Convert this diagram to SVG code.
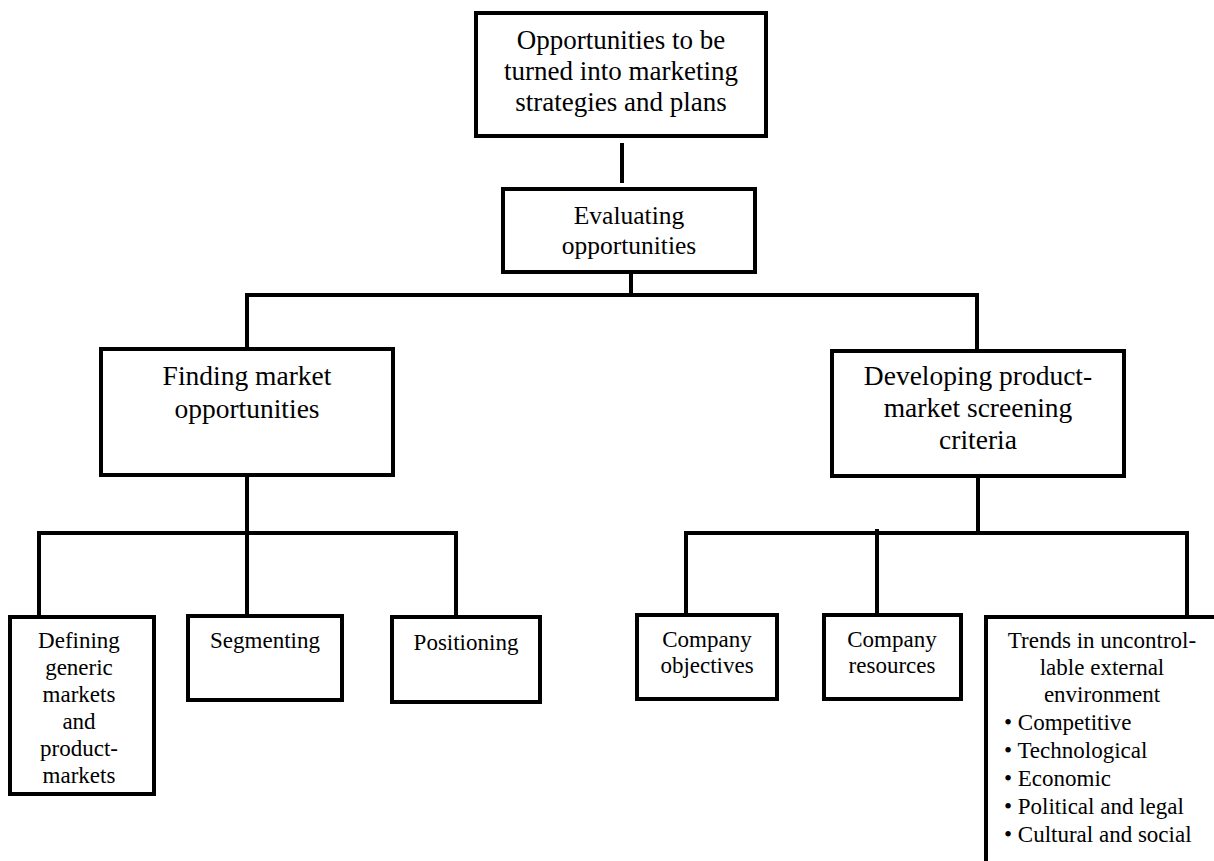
<svg xmlns="http://www.w3.org/2000/svg" width="1214" height="861" viewBox="0 0 1214 861">
  <style>
    .box { fill: #ffffff; stroke: #000000; stroke-width: 4; }
    .wire { fill: none; stroke: #000000; stroke-width: 4; stroke-linecap: butt; stroke-linejoin: miter; }
    text { font-family: "Liberation Serif", "Times New Roman", serif; fill: #000000; }
    .c { text-anchor: middle; }
    .f27 { font-size: 27px; }
    .f26 { font-size: 25.5px; }
    .f28 { font-size: 27.5px; }
    .f23 { font-size: 23px; }
  </style>
  <rect width="1214" height="861" fill="#ffffff"/>

  <!-- connectors -->
  <g id="connectors" class="wire">
    <line x1="622" y1="143" x2="622" y2="183"/>
    <line x1="631" y1="270" x2="631" y2="295"/>
    <polyline points="247,349 247,295 977,295 977,357"/>
    <line x1="247" y1="473" x2="247" y2="616"/>
    <polyline points="39,617 39,533 456,533 456,617"/>
    <line x1="978" y1="473" x2="978" y2="533"/>
    <polyline points="686,615 686,533 1187,533 1187,617"/>
    <line x1="877" y1="529" x2="877" y2="613"/>
  </g>

  <!-- top level -->
  <g id="node-opportunities">
    <rect class="box" x="476" y="13" width="290" height="123"/>
    <text class="c f27" x="621" y="49">Opportunities to be</text>
    <text class="c f27" x="621" y="80">turned into marketing</text>
    <text class="c f27" x="621" y="111">strategies and plans</text>
  </g>

  <g id="node-evaluating">
    <rect class="box" x="503" y="189" width="252" height="83"/>
    <text class="c f26" x="629" y="224">Evaluating</text>
    <text class="c f26" x="629" y="254">opportunities</text>
  </g>

  <!-- second level -->
  <g id="node-finding">
    <rect class="box" x="101" y="349" width="292" height="126"/>
    <text class="c f28" x="247" y="385">Finding market</text>
    <text class="c f28" x="247" y="418">opportunities</text>
  </g>

  <g id="node-developing">
    <rect class="box" x="832" y="351" width="292" height="125"/>
    <text class="c f28" x="978" y="385">Developing product-</text>
    <text class="c f28" x="978" y="417">market screening</text>
    <text class="c f28" x="978" y="449">criteria</text>
  </g>

  <!-- third level, left branch -->
  <g id="node-defining">
    <rect class="box" x="10" y="617" width="144" height="177"/>
    <text class="c f23" x="79" y="648">Defining</text>
    <text class="c f23" x="79" y="675">generic</text>
    <text class="c f23" x="79" y="702">markets</text>
    <text class="c f23" x="79" y="729">and</text>
    <text class="c f23" x="79" y="756">product-</text>
    <text class="c f23" x="79" y="783">markets</text>
  </g>

  <g id="node-segmenting">
    <rect class="box" x="188" y="616" width="154" height="84"/>
    <text class="c f23" x="265" y="648">Segmenting</text>
  </g>

  <g id="node-positioning">
    <rect class="box" x="392" y="617" width="148" height="85"/>
    <text class="c f23" x="466" y="650">Positioning</text>
  </g>

  <!-- third level, right branch -->
  <g id="node-objectives">
    <rect class="box" x="637" y="615" width="140" height="84"/>
    <text class="c f23" x="707" y="647">Company</text>
    <text class="c f23" x="707" y="673">objectives</text>
  </g>

  <g id="node-resources">
    <rect class="box" x="824" y="615" width="137" height="84"/>
    <text class="c f23" x="892" y="647">Company</text>
    <text class="c f23" x="892" y="673">resources</text>
  </g>

  <g id="node-trends">
    <rect class="box" x="986" y="617" width="240" height="260"/>
    <text class="c f23" x="1102" y="648">Trends in uncontrol-</text>
    <text class="c f23" x="1102" y="675">lable external</text>
    <text class="c f23" x="1102" y="702">environment</text>
    <text class="f23" x="1004" y="730">• Competitive</text>
    <text class="f23" x="1004" y="758">• Technological</text>
    <text class="f23" x="1004" y="786">• Economic</text>
    <text class="f23" x="1004" y="814">• Political and legal</text>
    <text class="f23" x="1004" y="842">• Cultural and social</text>
  </g>
</svg>
